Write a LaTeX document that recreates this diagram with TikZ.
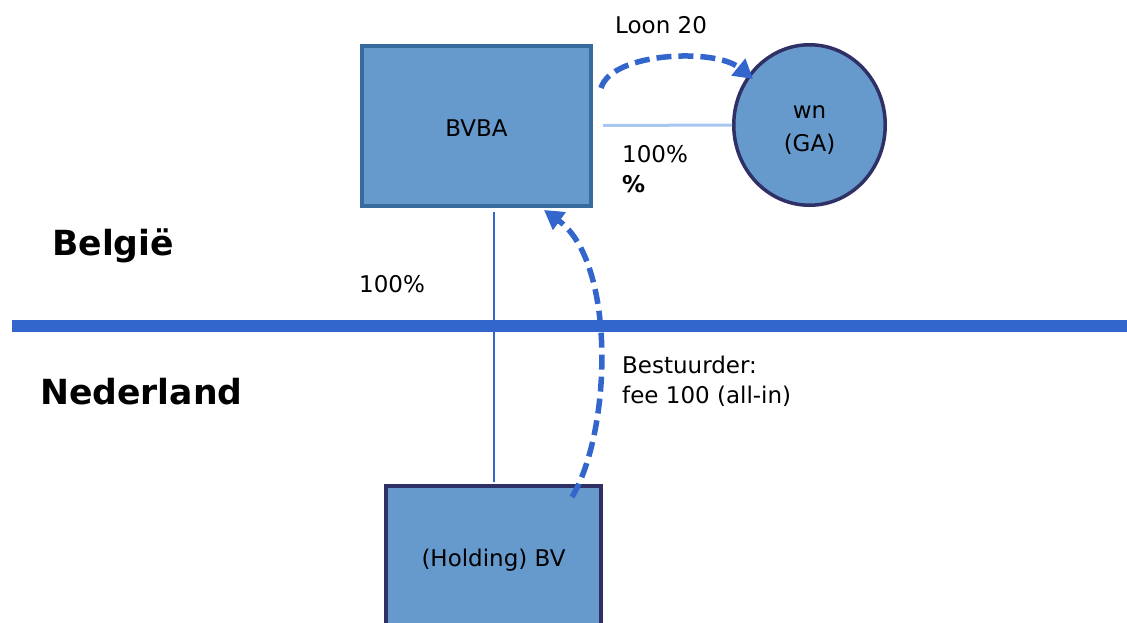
\documentclass[tikz,border=0pt]{standalone}
\usepackage{fontspec}
\setmainfont{DejaVu Sans}
\usetikzlibrary{shapes.geometric,arrows.meta}
\definecolor{boxfill}{RGB}{103,154,204}
\definecolor{boxedge}{RGB}{56,106,158}
\definecolor{navy}{RGB}{46,48,102}
\definecolor{lineblue}{RGB}{51,102,204}
\definecolor{lightline}{RGB}{166,200,240}
\tikzset{
  txt/.style={font=\fontsize{23}{33}\selectfont, inner sep=0pt, anchor=base west},
  bold/.style={font=\bfseries\fontsize{34.6}{40}\selectfont, inner sep=0pt, anchor=base west},
  entity/.style={draw=boxedge, fill=boxfill, line width=4pt, inner sep=0pt, font=\fontsize{23}{33}\selectfont},
  person/.style={ellipse, draw=navy, fill=boxfill, line width=3.5pt, inner sep=0pt, font=\fontsize{23}{33}\selectfont},
  flow/.style={draw=lineblue, line width=5.5pt, dash pattern=on 15pt off 7pt, -{Triangle[length=19pt,width=21pt]}},
}
\begin{document}
\begin{tikzpicture}[x=1pt,y=-1pt]
\useasboundingbox (0,0) rectangle (1127,622);
\clip (0,0) rectangle (1127,622);
% boxes
\node[entity, minimum width=229pt, minimum height=160pt] (bvba) at (476.5,125.5) {\raisebox{-10.5pt}[0pt][0pt]{BVBA}};
\node[person, minimum width=151.5pt, minimum height=160.5pt] (wn) at (809.5,125)
  {\raisebox{-10pt}[0pt][0pt]{\begin{tabular}{@{}c@{}}wn\\(GA)\end{tabular}}};
\node[entity, draw=navy, minimum width=215pt, minimum height=144pt] (hold) at (493.5,558) {\raisebox{-8.5pt}[0pt][0pt]{(Holding) BV}};
% ownership lines
\draw[lightline, line width=3pt] ([xshift=10pt]bvba.east) -- (wn.west);
\draw[lineblue, line width=2pt] ([yshift=-4pt]bvba.south -| hold.north) -- ([yshift=2pt]hold.north);
% border line
\coordinate (bl) at (12,326);
\coordinate (br) at (1127,326);
\draw[lineblue, line width=12pt] (bl) -- (br);
% flows
\coordinate (l0) at (601,88);
\coordinate (l1) at (753,79);
\draw[flow] (l0) .. controls (612,52) and (715,48) .. (l1);
\coordinate (f0) at (572,497);
\coordinate (f1) at (544,210);
\draw[flow] (f0) .. controls (612,430) and (616,262) .. (f1);
% labels
\node[txt] (loon) at (615,33) {Loon 20};
\node[txt] (pct1) at (622,162) {100\%};
\node[txt, font=\bfseries\fontsize{23}{33}\selectfont] (pct1b) at (622,192) {\%};
\node[txt] (pct2) at (359,292) {100\%};
\node[txt] (best) at (622,373) {Bestuurder:};
\node[txt] (fee) at (622,403) {fee 100 (all-in)};
\node[bold] (be) at (52,255) {België};
\node[bold] (nl) at (40,404) {Nederland};
\end{tikzpicture}
\end{document}
